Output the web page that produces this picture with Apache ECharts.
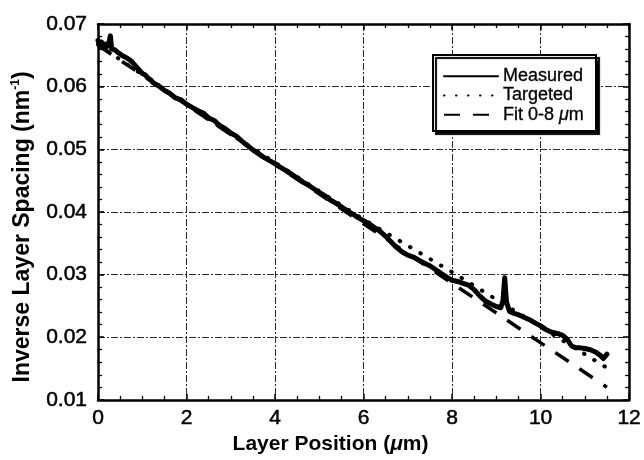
<!DOCTYPE html>
<html>
<head>
<meta charset="utf-8">
<script src="https://cdn.jsdelivr.net/npm/echarts@6/dist/echarts.min.js"></script>
<style>
  html, body { margin: 0; padding: 0; background: #fff; }
  #chart { width: 644px; height: 460px; }
</style>
</head>
<body>
<div id="chart"></div>
<script>
// Measured inverse layer spacing versus depth (µm, nm^-1)
const measuredPos = [
  0.00, 0.04, 0.08, 0.12, 0.16, 0.20, 0.24, 0.28, 0.31, 0.375,
  0.44, 0.50, 0.5625, 0.625, 0.6875, 0.75, 0.8125, 0.875, 0.9375, 1.00,
  1.0625, 1.125, 1.1875, 1.25, 1.375, 1.50, 1.625, 1.75, 1.875, 2.00,
  2.125, 2.25, 2.375, 2.50, 2.625, 2.75, 2.875, 3.00, 3.125, 3.25,
  3.375, 3.50, 3.625, 3.75, 3.875, 4.00, 4.125, 4.25, 4.375, 4.50,
  4.625, 4.75, 4.875, 5.00, 5.125, 5.25, 5.375, 5.50, 5.625, 5.75,
  5.875, 6.00, 6.125, 6.25, 6.375, 6.50, 6.625, 6.75, 6.875, 7.00,
  7.125, 7.25, 7.375, 7.50, 7.625, 7.75, 7.875, 8.00, 8.125, 8.25,
  8.375, 8.50, 8.625, 8.75, 8.875, 9.00, 9.10, 9.15, 9.19, 9.23,
  9.30, 9.40, 9.50, 9.625, 9.75, 9.875, 10.00, 10.125, 10.25, 10.375,
  10.50, 10.60, 10.70, 10.80, 10.90, 11.00, 11.125, 11.25, 11.35, 11.42,
  11.50
];
const measuredInv = [
  0.0674, 0.0664, 0.0671, 0.0662, 0.0668, 0.0664, 0.0668, 0.0681, 0.0660, 0.0659,
  0.0655, 0.0652, 0.0649, 0.0647, 0.0644, 0.0641, 0.0636, 0.0631, 0.0626, 0.0621,
  0.0619, 0.0614, 0.0611, 0.0606, 0.0601, 0.0594, 0.0589, 0.0582, 0.0579, 0.0572,
  0.0567, 0.0562, 0.0558, 0.0550, 0.0546, 0.0538, 0.0533, 0.0526, 0.0521, 0.0513,
  0.0506, 0.0499, 0.0493, 0.0487, 0.0482, 0.0477, 0.0471, 0.0466, 0.0460, 0.0454,
  0.0448, 0.0443, 0.0437, 0.0431, 0.0426, 0.0419, 0.0414, 0.0408, 0.0402, 0.0397,
  0.0391, 0.0386, 0.0381, 0.0375, 0.0369, 0.0361, 0.0352, 0.0343, 0.0336, 0.0331,
  0.0328, 0.0323, 0.0318, 0.0314, 0.0308, 0.0302, 0.0296, 0.0291, 0.0289, 0.0286,
  0.0283, 0.0276, 0.0266, 0.0258, 0.0253, 0.0249, 0.0247, 0.0258, 0.0295, 0.0256,
  0.0241, 0.0238, 0.0236, 0.0232, 0.0228, 0.0223, 0.0218, 0.0212, 0.0208, 0.0206,
  0.0203, 0.0197, 0.0186, 0.0183, 0.0183, 0.0182, 0.0180, 0.0176, 0.0171, 0.0166,
  0.0173
];

// Design target profile and linear fit over 0-8 µm
const targetedPos = [0, 3, 6, 8, 11.5];
const targetedInv = [0.0667, 0.0524, 0.0388, 0.0304, 0.0151];
const fitPos = [0, 11.5];
const fitInv = [0.0666, 0.0120];

const xTicks = [0, 2, 4, 6, 8, 10, 12];
const yTicks = [0.01, 0.02, 0.03, 0.04, 0.05, 0.06, 0.07];

const seriesNames = ['Measured', 'Targeted', 'Fit 0-8 \u03bcm'];

function pairs(xs, ys) {
  return xs.map((x, i) => [x, ys[i]]);
}

const FONT = '"Liberation Sans", Arial, Helvetica, sans-serif';
const gridLine = { show: true, lineStyle: { color: '#2a2a2a', width: 1, type: [7, 2, 2, 2] } };
const frameLine = { show: true, onZero: false, lineStyle: { color: '#000', width: 2.5 } };
const tickIn = { show: true, inside: true, length: 6, lineStyle: { color: '#000', width: 1.5 } };
const minorIn = { show: true, length: 4, lineStyle: { color: '#000', width: 1.3 } };
const tickText = {
  fontFamily: FONT, fontSize: 21, color: '#000',
  textBorderColor: '#000', textBorderWidth: 0.5
};

const chart = echarts.init(document.getElementById('chart'), null, { renderer: 'canvas' });

chart.setOption({
  animation: false,
  backgroundColor: '#fff',
  grid: { left: 98, right: 14, top: 24, bottom: 53, containLabel: false },
  legend: {
    data: seriesNames,
    orient: 'vertical',
    left: 433,
    top: 55,
    backgroundColor: '#fff',
    borderColor: '#000',
    borderWidth: 2,
    borderRadius: 0,
    shadowColor: '#000',
    shadowBlur: 1,
    shadowOffsetX: 3,
    shadowOffsetY: 3,
    padding: [12, 12, 7, 10],
    itemWidth: 54,
    itemHeight: 12,
    itemGap: 1,
    selectedMode: false,
    itemStyle: { opacity: 0, borderWidth: 0 },
    formatter: function (name) {
      if (name === seriesNames[2]) return '{a|Fit 0-8 }{b|\u03bc}{a|m}';
      return '{a|' + name + '}';
    },
    textStyle: {
      fontFamily: FONT,
      fontSize: 18,
      lineHeight: 15,
      color: '#000',
      rich: {
        a: { fontFamily: FONT, fontSize: 18, color: '#000', lineHeight: 15, textBorderColor: '#000', textBorderWidth: 0.3 },
        b: { fontFamily: FONT, fontSize: 18, color: '#000', fontStyle: 'italic', lineHeight: 15, textBorderColor: '#000', textBorderWidth: 0.3 }
      }
    }
  },
  xAxis: [
    {
      type: 'value',
      position: 'bottom',
      min: xTicks[0],
      max: xTicks[xTicks.length - 1],
      interval: 2,
      axisLine: frameLine,
      axisTick: tickIn,
      minorTick: Object.assign({ splitNumber: 4 }, minorIn),
      splitLine: gridLine,
      axisLabel: Object.assign({ margin: 8 }, tickText),
      name: '{t|Layer Position (}{i|\u03bc}{t|m)}',
      nameLocation: 'middle',
      nameGap: 34,
      nameTextStyle: {
        padding: [0, 66, 0, 0],
        rich: {
          t: { fontFamily: FONT, fontSize: 21, fontWeight: 'bold', color: '#000' },
          i: { fontFamily: FONT, fontSize: 21, fontWeight: 'bold', fontStyle: 'italic', color: '#000' }
        }
      }
    },
    {
      type: 'value',
      position: 'top',
      min: xTicks[0],
      max: xTicks[xTicks.length - 1],
      interval: 2,
      axisLine: frameLine,
      axisTick: tickIn,
      minorTick: Object.assign({ splitNumber: 4 }, minorIn),
      splitLine: { show: false },
      axisLabel: { show: false }
    }
  ],
  yAxis: [
    {
      type: 'value',
      position: 'left',
      min: yTicks[0],
      max: yTicks[yTicks.length - 1],
      interval: 0.01,
      axisLine: frameLine,
      axisTick: tickIn,
      minorTick: Object.assign({ splitNumber: 5 }, minorIn),
      splitLine: gridLine,
      axisLabel: Object.assign({ margin: 11, formatter: v => v.toFixed(2) }, tickText),
      name: '{t|Inverse Layer Spacing (nm}{s|-1}{t|)}',
      nameLocation: 'middle',
      nameRotate: 90,
      nameGap: 64,
      nameTextStyle: {
        padding: [0, 30, 0, 0],
        rich: {
          t: { fontFamily: FONT, fontSize: 23, fontWeight: 'bold', color: '#000', lineHeight: 24, verticalAlign: 'bottom' },
          s: { fontFamily: FONT, fontSize: 12, fontWeight: 'bold', color: '#000', lineHeight: 24, verticalAlign: 'top', padding: [0, 0, 11, 0] }
        }
      }
    },
    {
      type: 'value',
      position: 'right',
      min: yTicks[0],
      max: yTicks[yTicks.length - 1],
      interval: 0.01,
      axisLine: frameLine,
      axisTick: tickIn,
      minorTick: Object.assign({ splitNumber: 5 }, minorIn),
      splitLine: { show: false },
      axisLabel: { show: false }
    }
  ],
  series: [
    {
      name: seriesNames[0],
      type: 'line',
      xAxisIndex: 0,
      yAxisIndex: 0,
      data: pairs(measuredPos, measuredInv),
      symbol: 'none',
      z: 4,
      lineStyle: { color: '#000', width: 5, join: 'round', cap: 'round' },
      itemStyle: { color: '#000' }
    },
    {
      name: seriesNames[1],
      type: 'line',
      xAxisIndex: 0,
      yAxisIndex: 0,
      data: pairs(targetedPos, targetedInv),
      symbol: 'none',
      z: 3,
      lineStyle: { color: '#000', width: 4, type: [0.5, 11.5], cap: 'round' },
      itemStyle: { color: '#000' }
    },
    {
      name: seriesNames[2],
      type: 'line',
      xAxisIndex: 0,
      yAxisIndex: 0,
      data: pairs(fitPos, fitInv),
      symbol: 'none',
      z: 3,
      lineStyle: { color: '#000', width: 3.5, type: [16, 13], cap: 'butt' },
      itemStyle: { color: '#000' }
    }
  ]
});
</script>
</body>
</html>
